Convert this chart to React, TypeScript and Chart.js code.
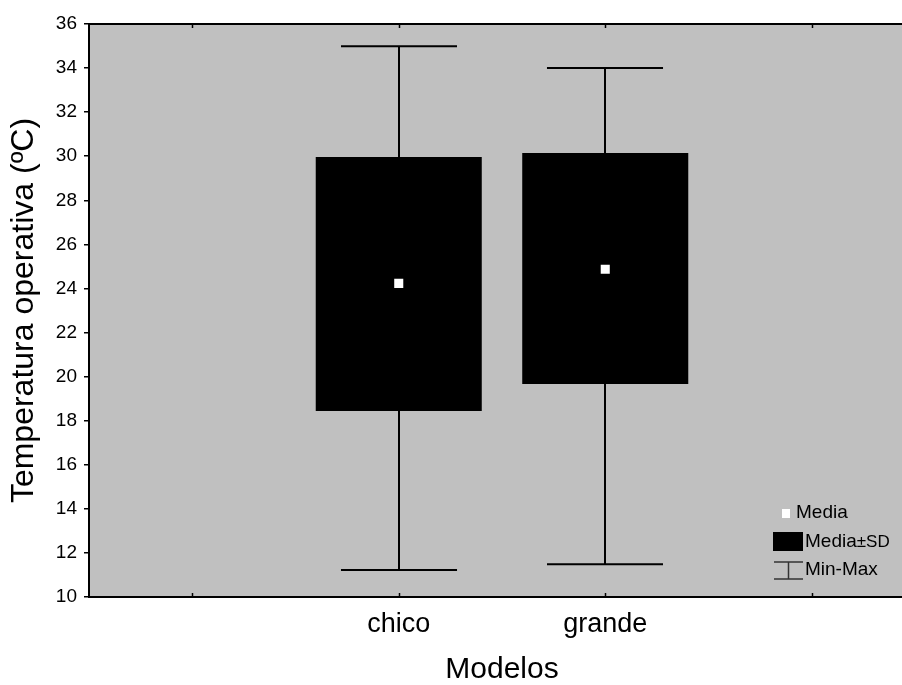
import { useEffect, useRef } from 'react';
import { Chart, registerables } from 'chart.js';

Chart.register(...registerables);

const categories = ['', 'chico', 'grande', ''];
const means = [null, 24.23, 24.87, null];
const sdLow = [null, 18.44, 19.67, null];
const sdHigh = [null, 29.97, 30.15, null];
const minVals = [null, 11.23, 11.49, null];
const maxVals = [null, 34.99, 34.0, null];
const yMin = 10;
const yMax = 36;
const yStep = 2;
const xTitle = 'Modelos';
const yTitle = 'Temperatura operativa (ºC)';
const legendLabels = ['Media', 'Media', '±SD', 'Min-Max'];

const FONT = "'Liberation Sans', Arial, sans-serif";

const plotPlugin = {
  id: 'plotDecor',
  beforeDraw(chart: any) {
    const { ctx, chartArea } = chart;
    ctx.save();
    ctx.fillStyle = '#c0c0c0';
    ctx.fillRect(chartArea.left, chartArea.top, chartArea.right - chartArea.left, chartArea.bottom - chartArea.top);
    ctx.restore();
  },
  beforeDatasetsDraw(chart: any) {
    const { ctx } = chart;
    const xs = chart.scales.x;
    const ys = chart.scales.y;
    const slot = xs.width / categories.length;
    const half = slot * 0.281;
    ctx.save();
    ctx.strokeStyle = '#000';
    ctx.lineWidth = 2;
    for (let i = 0; i < categories.length; i++) {
      const lo = minVals[i];
      const hi = maxVals[i];
      if (lo == null || hi == null) continue;
      const x = Math.round(xs.getPixelForValue(i));
      const yl = ys.getPixelForValue(lo);
      const yh = ys.getPixelForValue(hi);
      ctx.beginPath();
      ctx.moveTo(x, yl);
      ctx.lineTo(x, yh);
      ctx.moveTo(x - half, yl);
      ctx.lineTo(x + half, yl);
      ctx.moveTo(x - half, yh);
      ctx.lineTo(x + half, yh);
      ctx.stroke();
    }
    ctx.restore();
  },
  afterDraw(chart: any) {
    const { ctx, chartArea } = chart;
    const xs = chart.scales.x;
    ctx.save();
    ctx.strokeStyle = '#000';
    ctx.lineWidth = 2;
    ctx.beginPath();
    ctx.moveTo(chartArea.left - 1, chartArea.top);
    ctx.lineTo(chartArea.right, chartArea.top);
    ctx.stroke();
    ctx.lineWidth = 1.5;
    ctx.beginPath();
    for (let i = 0; i < categories.length; i++) {
      const x = Math.round(xs.getPixelForValue(i)) + 0.5;
      ctx.moveTo(x, chartArea.bottom);
      ctx.lineTo(x, chartArea.bottom - 4);
      ctx.moveTo(x, chartArea.top);
      ctx.lineTo(x, chartArea.top + 4);
    }
    ctx.stroke();

    // legend
    const b = chartArea.bottom;
    ctx.textBaseline = 'alphabetic';
    ctx.textAlign = 'left';
    ctx.fillStyle = '#fff';
    ctx.fillRect(782, b - 88, 8, 9);
    ctx.fillStyle = '#000';
    ctx.font = `19px ${FONT}`;
    ctx.fillText(legendLabels[0], 796, b - 79);
    ctx.fillRect(773, b - 65, 30, 19);
    ctx.fillText(legendLabels[1], 805, b - 50);
    const w = ctx.measureText(legendLabels[1]).width;
    ctx.font = `17px ${FONT}`;
    ctx.fillText(legendLabels[2], 805 + w, b - 50);
    ctx.strokeStyle = '#333';
    ctx.lineWidth = 1.5;
    ctx.beginPath();
    ctx.moveTo(774, b - 35);
    ctx.lineTo(803, b - 35);
    ctx.moveTo(788.5, b - 35);
    ctx.lineTo(788.5, b - 18);
    ctx.moveTo(774, b - 18);
    ctx.lineTo(803, b - 18);
    ctx.stroke();
    ctx.font = `19px ${FONT}`;
    ctx.fillText(legendLabels[3], 805, b - 22);
    ctx.restore();
  },
};

export default function App() {
  const ref = useRef<HTMLCanvasElement | null>(null);
  useEffect(() => {
    if (!ref.current) return;
    Chart.defaults.color = '#000';
    Chart.defaults.font.family = FONT;
    const chart = new Chart(ref.current, {
      type: 'bar',
      data: {
        labels: categories,
        datasets: [
          {
            type: 'line',
            label: 'Media',
            data: means as any,
            showLine: false,
            pointStyle: 'rect',
            pointRadius: 6.4,
            pointBackgroundColor: '#fff',
            pointBorderWidth: 0,
            borderWidth: 0,
          } as any,
          {
            type: 'bar',
            label: 'Media±SD',
            data: sdLow.map((v, i) => (v == null ? null : [v, sdHigh[i]])) as any,
            backgroundColor: '#000',
            borderWidth: 0,
            barPercentage: 0.804,
            categoryPercentage: 1,
          },
        ],
      },
      options: {
        animation: false,
        responsive: false,
        layout: { padding: { top: 24, right: 15, left: 0, bottom: 0 } },
        plugins: { legend: { display: false }, tooltip: { enabled: false } },
        scales: {
          x: {
            offset: true,
            grid: { display: false, drawTicks: false },
            border: { display: true, color: '#000', width: 2 },
            ticks: { font: { size: 27, family: FONT }, color: '#000', padding: 11 },
            title: {
              display: true,
              text: xTitle,
              font: { size: 30, family: FONT, lineHeight: 1 },
              color: '#000',
              padding: { top: 0, bottom: 0 },
            },
            afterFit: (s: any) => { s.height = 88; },
          },
          y: {
            min: yMin,
            max: yMax,
            grid: { drawOnChartArea: false, drawTicks: true, tickLength: 5, color: '#000', lineWidth: 1.5 },
            border: { display: true, color: '#000', width: 2 },
            ticks: { stepSize: yStep, font: { size: 19, family: FONT }, color: '#000', padding: 7 },
            title: {
              display: true,
              text: yTitle,
              font: { size: 32, family: FONT },
              color: '#000',
              padding: { top: 5, bottom: 0 },
            },
            afterFit: (s: any) => { s.width = 89; },
          },
        },
      },
      plugins: [plotPlugin],
    });
    return () => chart.destroy();
  }, []);
  return (
    <div style={{ position: 'fixed', left: 0, top: 0, width: 902, height: 685, overflow: 'hidden', background: '#fff' }}>
      <canvas ref={ref} width={930} height={685} style={{ display: 'block' }} />
    </div>
  );
}
